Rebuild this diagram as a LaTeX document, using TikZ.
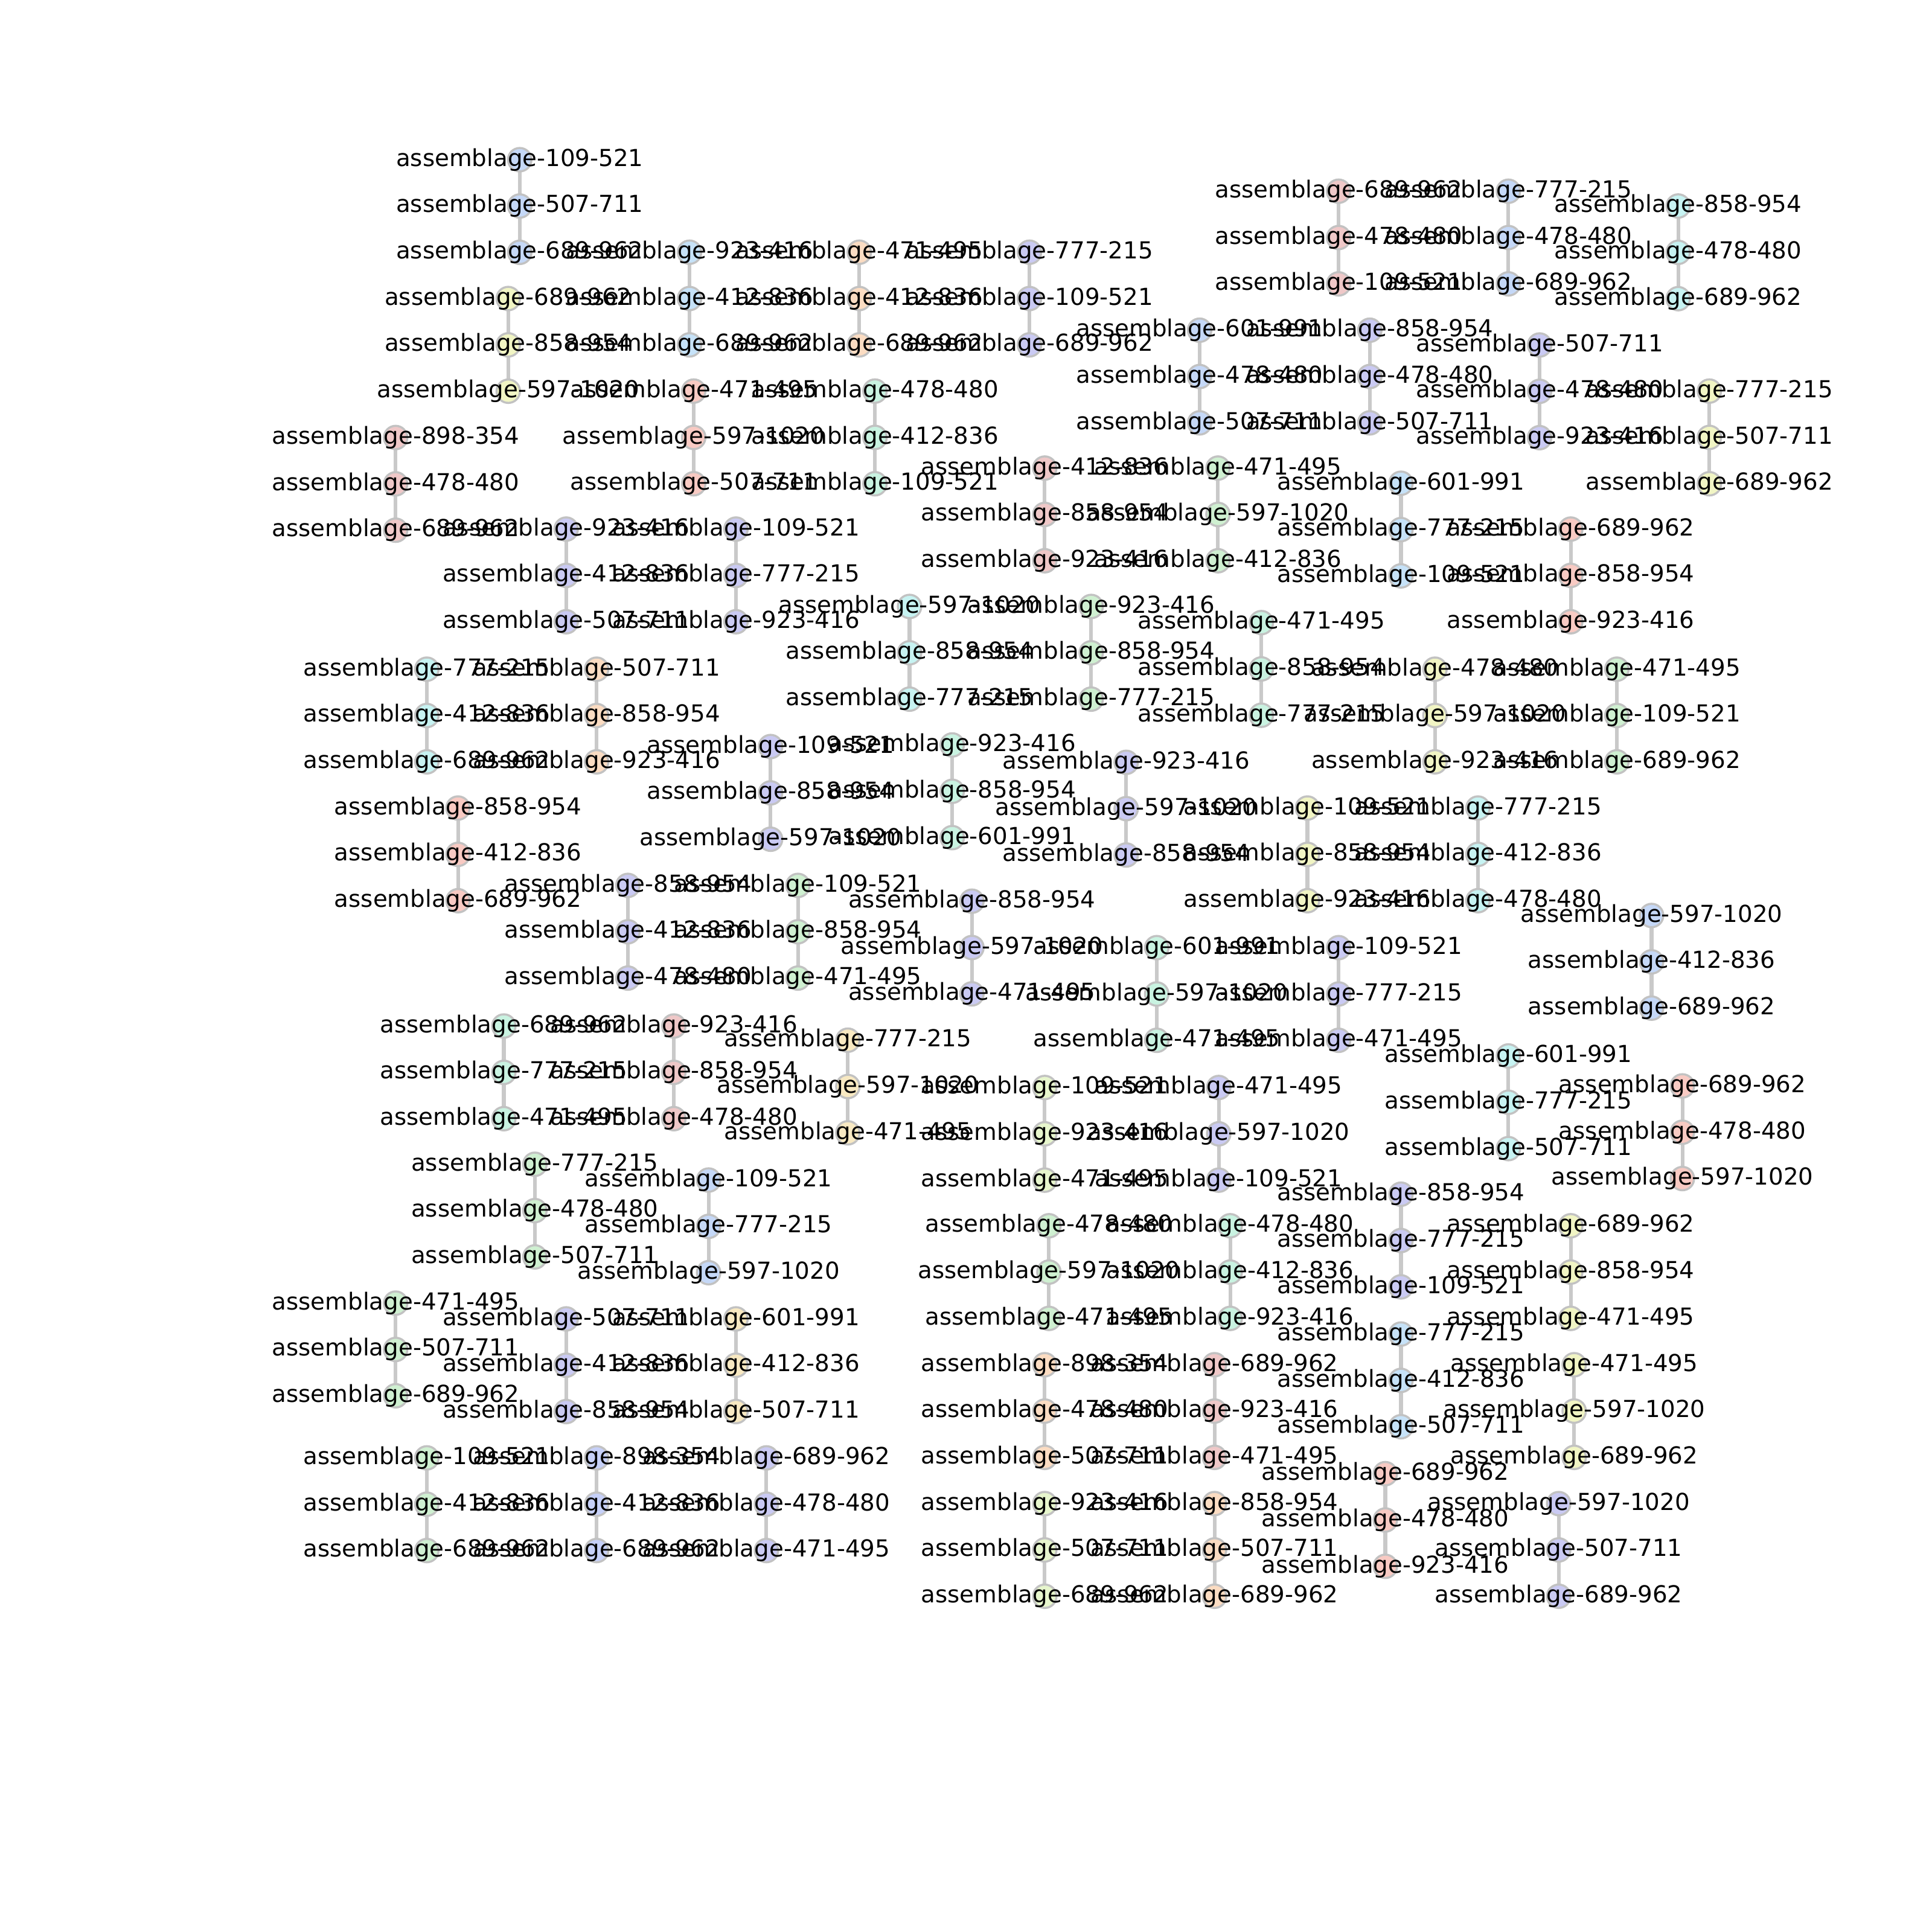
\documentclass[tikz,border=0pt]{standalone}
\usepackage{fontspec}
\setmainfont{DejaVu Sans}
\pgfdeclarelayer{bg}
\pgfdeclarelayer{fg}
\pgfsetlayers{bg,main,fg}
\definecolor{cblue}{HTML}{C5D8F7}
\definecolor{clblue}{HTML}{C6E2F8}
\definecolor{cyel}{HTML}{F1F5C4}
\definecolor{corg}{HTML}{F8E9C2}
\definecolor{cpeach}{HTML}{FBDCC2}
\definecolor{cpink}{HTML}{EFC8C8}
\definecolor{csal}{HTML}{F8CAC3}
\definecolor{cpur}{HTML}{CACAF3}
\definecolor{cperi}{HTML}{C6D0F8}
\definecolor{cmint}{HTML}{C9F3E1}
\definecolor{ccyan}{HTML}{C7F3F2}
\definecolor{cgreen}{HTML}{CFF0D1}
\definecolor{cyg}{HTML}{E7F6CD}
\tikzset{
  dot/.style={circle,minimum size=19pt,inner sep=0pt,draw=black!24,line width=1.7pt},
  edge/.style={draw=black!21,line width=3pt},
  lbl/.style={inner sep=0pt,anchor=center,text=black,font=\fontsize{19pt}{22pt}\selectfont}
}
\newcommand\mkchain[7]{%
  \node[dot,fill=#4] (#1a) at (#2,#3) {};
  \node[dot,fill=#4] (#1b) at (#2,#3+37.6) {};
  \node[dot,fill=#4] (#1c) at (#2,#3+75.2) {};
  \begin{pgfonlayer}{bg}
    \draw[edge] (#1a.center) -- (#1b.center) -- (#1c.center);
  \end{pgfonlayer}
  \begin{pgfonlayer}{fg}
    \node[lbl] (#1la) at (#1a.center) {assemblage-#5};
    \node[lbl] (#1lb) at (#1b.center) {assemblage-#6};
    \node[lbl] (#1lc) at (#1c.center) {assemblage-#7};
  \end{pgfonlayer}%
}
\begin{document}
\begin{tikzpicture}[x=1pt,y=-1pt]
\useasboundingbox (0,0) rectangle (1568,1568);
\mkchain{ca}{421.8}{129.6}{cblue}{109-521}{507-711}{689-962}
\mkchain{cb}{412.5}{242.3}{cyel}{689-962}{858-954}{597-1020}
\mkchain{cc}{321.1}{355.1}{cpink}{898-354}{478-480}{689-962}
\mkchain{cd}{559.6}{204.7}{clblue}{923-416}{412-836}{689-962}
\mkchain{ce}{697.4}{204.7}{cpeach}{471-495}{412-836}{689-962}
\mkchain{cf}{835.5}{204.7}{cpur}{777-215}{109-521}{689-962}
\mkchain{cg}{563.0}{317.4}{csal}{471-495}{597-1020}{507-711}
\mkchain{ch}{710.1}{317.4}{cmint}{478-480}{412-836}{109-521}
\mkchain{ci}{459.5}{429.4}{cpur}{923-416}{412-836}{507-711}
\mkchain{cj}{597.3}{429.4}{cpur}{109-521}{777-215}{923-416}
\mkchain{ck}{346.4}{543.1}{ccyan}{777-215}{412-836}{689-962}
\mkchain{cl}{484.2}{543.1}{cpeach}{507-711}{858-954}{923-416}
\mkchain{cm}{371.7}{655.8}{csal}{858-954}{412-836}{689-962}
\mkchain{cn}{738.2}{492.2}{ccyan}{597-1020}{858-954}{777-215}
\mkchain{co}{885.6}{492.2}{cgreen}{923-416}{858-954}{777-215}
\mkchain{cp}{847.9}{379.9}{cpink}{412-836}{858-954}{923-416}
\mkchain{cq}{988.5}{379.9}{cgreen}{471-495}{597-1020}{412-836}
\mkchain{cr}{625.4}{605.9}{cpur}{109-521}{858-954}{597-1020}
\mkchain{cs}{772.8}{604.6}{cmint}{923-416}{858-954}{601-991}
\mkchain{ct}{1023.7}{505.3}{cmint}{471-495}{858-954}{777-215}
\mkchain{cu}{914.0}{618.7}{cpur}{923-416}{597-1020}{858-954}
\mkchain{cv}{509.6}{718.6}{cpur}{858-954}{412-836}{478-480}
\mkchain{cw}{647.6}{718.6}{cgreen}{109-521}{858-954}{471-495}
\mkchain{cx}{788.8}{731.4}{cpur}{858-954}{597-1020}{471-495}
\mkchain{cy}{408.9}{832.7}{cmint}{689-962}{777-215}{471-495}
\mkchain{cz}{546.9}{832.7}{cpink}{923-416}{858-954}{478-480}
\mkchain{daa}{688.1}{844.2}{corg}{777-215}{597-1020}{471-495}
\mkchain{dab}{434.1}{944.9}{cgreen}{777-215}{478-480}{507-711}
\mkchain{dac}{575.1}{957.7}{cblue}{109-521}{777-215}{597-1020}
\mkchain{dad}{321.1}{1057.6}{cgreen}{471-495}{507-711}{689-962}
\mkchain{dae}{459.5}{1070.4}{cpur}{507-711}{412-836}{858-954}
\mkchain{daf}{597.3}{1070.4}{corg}{601-991}{412-836}{507-711}
\mkchain{dag}{346.4}{1183.2}{cgreen}{109-521}{412-836}{689-962}
\mkchain{dah}{484.2}{1183.2}{cperi}{898-354}{412-836}{689-962}
\mkchain{dai}{622.0}{1183.2}{cpur}{689-962}{478-480}{471-495}
\mkchain{daj}{847.9}{882.6}{cyg}{109-521}{923-416}{471-495}
\mkchain{dak}{989.1}{882.6}{cpur}{471-495}{597-1020}{109-521}
\mkchain{dal}{938.8}{769.1}{cmint}{601-991}{597-1020}{471-495}
\mkchain{dam}{1086.4}{769.1}{cpur}{109-521}{777-215}{471-495}
\mkchain{dan}{1061.1}{655.8}{cyel}{109-521}{858-954}{923-416}
\mkchain{dao}{1199.5}{655.8}{ccyan}{777-215}{412-836}{478-480}
\mkchain{dap}{1164.6}{543.1}{cyel}{478-480}{597-1020}{923-416}
\mkchain{daq}{1312.2}{543.1}{cgreen}{471-495}{109-521}{689-962}
\mkchain{dar}{1137.0}{392.2}{clblue}{601-991}{777-215}{109-521}
\mkchain{das}{1274.8}{429.4}{csal}{689-962}{858-954}{923-416}
\mkchain{dat}{973.6}{268.0}{cblue}{601-991}{478-480}{507-711}
\mkchain{dau}{1111.7}{268.0}{cpur}{858-954}{478-480}{507-711}
\mkchain{dav}{1249.5}{280.0}{cpur}{507-711}{478-480}{923-416}
\mkchain{daw}{1387.3}{317.4}{cyel}{777-215}{507-711}{689-962}
\mkchain{dax}{1086.4}{155.2}{cpink}{689-962}{478-480}{109-521}
\mkchain{day}{1224.2}{155.2}{cblue}{777-215}{478-480}{689-962}
\mkchain{daz}{1362.0}{167.2}{ccyan}{858-954}{478-480}{689-962}
\mkchain{dba}{1340.4}{743.0}{cblue}{597-1020}{412-836}{689-962}
\mkchain{dbb}{1224.2}{857.0}{ccyan}{601-991}{777-215}{507-711}
\mkchain{dbc}{1365.4}{881.3}{csal}{689-962}{478-480}{597-1020}
\mkchain{dbd}{1137.0}{969.2}{cpur}{858-954}{777-215}{109-521}
\mkchain{dbe}{1274.8}{994.8}{cyel}{689-962}{858-954}{471-495}
\mkchain{dbf}{1137.0}{1082.7}{clblue}{777-215}{412-836}{507-711}
\mkchain{dbg}{1277.6}{1107.6}{cyel}{471-495}{597-1020}{689-962}
\mkchain{dbh}{1124.3}{1196.0}{csal}{689-962}{478-480}{923-416}
\mkchain{dbi}{1265.0}{1220.3}{cpur}{597-1020}{507-711}{689-962}
\mkchain{dbj}{851.3}{994.8}{cgreen}{478-480}{597-1020}{471-495}
\mkchain{dbk}{998.4}{994.8}{cmint}{478-480}{412-836}{923-416}
\mkchain{dbl}{847.9}{1107.6}{cpeach}{898-354}{478-480}{507-711}
\mkchain{dbm}{985.7}{1107.6}{cpink}{689-962}{923-416}{471-495}
\mkchain{dbn}{847.9}{1220.3}{cyg}{923-416}{507-711}{689-962}
\mkchain{dbo}{985.7}{1220.3}{cpeach}{858-954}{507-711}{689-962}
\end{tikzpicture}
\end{document}
